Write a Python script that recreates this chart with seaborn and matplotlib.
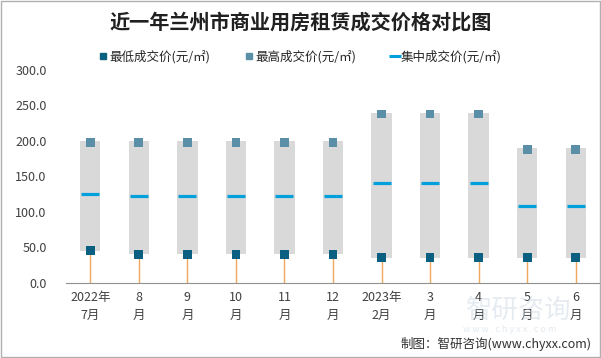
import numpy as np
import pandas as pd
import matplotlib
matplotlib.use('Agg')
import matplotlib.pyplot as plt
from matplotlib.lines import Line2D
import seaborn as sns

months = ['2022年\n7月', '8\n月', '9\n月', '10\n月', '11\n月', '12\n月',
          '2023年\n2月', '3\n月', '4\n月', '5\n月', '6\n月']
low_price = [45, 40, 40, 40, 40, 40, 35, 35, 35, 35, 35]
high_price = [200, 200, 200, 200, 200, 200, 240, 240, 240, 190, 190]
mid_price = [125, 122, 122, 122, 122, 122, 140, 140, 140, 108, 108]

sns.set_style('white')
plt.rcParams['font.family'] = ['Noto Sans CJK SC', 'DejaVu Sans']

df = pd.DataFrame({'month': months, 'low': low_price, 'high': high_price, 'mid': mid_price})
df['span'] = df['high'] - df['low']

fig = plt.figure(figsize=(6.01, 3.58), dpi=100)
ax = fig.add_axes([66 / 601, 1 - 282.7 / 358, 534 / 601, 212.7 / 358])

# gray range boxes
sns.barplot(data=df, x='month', y='span', bottom=df['low'], color='#d9d9d9',
            saturation=1, width=0.42, linewidth=0, ax=ax)

# drop lines from zero to the low price
xs = np.arange(len(months))
ax.vlines(xs, 0, df['low'], color='#f0a860', lw=1, zorder=1)

sns.scatterplot(data=df, x='month', y='low', marker='s', s=40, color='#0b5f80',
                edgecolor='none', ax=ax, zorder=4)
sns.scatterplot(x=df['month'], y=df['high'] - 2, marker='s', s=40, color='#5b8fa8',
                edgecolor='none', ax=ax, zorder=4)
sns.scatterplot(data=df, x='month', y='mid', marker='_', s=150, color='#00a0dc',
                linewidth=2.3, ax=ax, zorder=4)

ax.set_ylim(0, 300)
ax.set_xlim(-0.5, len(months) - 0.5)
ax.set_yticks([0, 50, 100, 150, 200, 250, 300])
ax.set_yticklabels([f'{v:.1f}' for v in [0, 50, 100, 150, 200, 250, 300]])
ax.set_xlabel('')
ax.set_ylabel('')
for s in ['top', 'right', 'left']:
    ax.spines[s].set_visible(False)
ax.spines['bottom'].set_color('#909090')
ax.tick_params(axis='both', length=0, labelsize=9, colors='#404040', pad=6)
ax.tick_params(axis='y', pad=14)
for lbl in ax.get_xticklabels():
    lbl.set_linespacing(1.5)

fig.text(0.5, 1 - 22 / 358, '近一年兰州市商业用房租赁成交价格对比图', ha='center', va='center',
         fontsize=14.5, fontweight='bold', color='#202020')

handles = [
    Line2D([], [], marker='s', ls='none', color='#0b5f80', markersize=5),
    Line2D([], [], marker='s', ls='none', color='#5b8fa8', markersize=5),
    Line2D([], [], marker='_', ls='none', color='#00a0dc', markersize=8, markeredgewidth=2.2),
]
labels = ['最低成交价(元/㎡)', '最高成交价(元/㎡)', '集中成交价(元/㎡)']
fig.legend(handles, labels, loc='center', bbox_to_anchor=(0.5, 1 - 57 / 358), ncol=3,
           frameon=False, fontsize=9, handlelength=0.6, handletextpad=0.2, columnspacing=2.8)

# watermark and source
fig.text(0.775, 1 - 310 / 358, '智研咨询', fontsize=19, color='#c8d4e0', alpha=0.45, ha='left',
         va='center', zorder=0)
fig.text(0.77, 1 - 330 / 358, 'w w w . c h y x x . c o m', fontsize=6.5, color='#c8d4e0',
         alpha=0.5, ha='left', va='center', zorder=0)
fig.text(0.985, 1 - 344 / 358, '制图：智研咨询(www.chyxx.com)', fontsize=9, color='#303030',
         ha='right', va='center')

fig.patches.append(plt.Rectangle((0.001, 0.002), 0.997, 0.995, transform=fig.transFigure,
                                 fill=False, edgecolor='#b0b0b0', lw=1))

fig.savefig('out.png', dpi=100)
